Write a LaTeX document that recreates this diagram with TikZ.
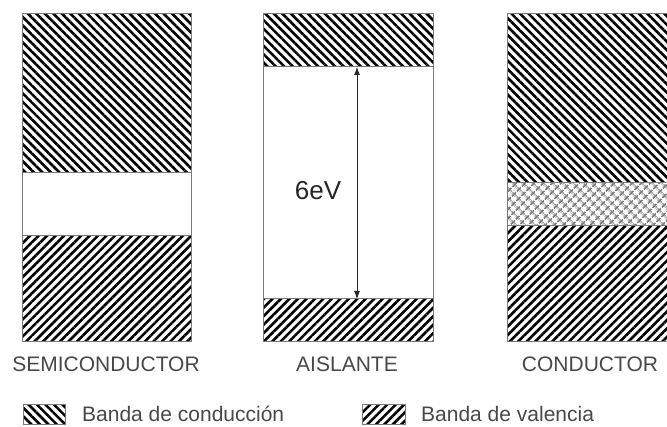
\documentclass[tikz,border=0pt]{standalone}
\usepackage{fontspec}
\setmainfont{Liberation Sans}
\usetikzlibrary{patterns.meta,arrows.meta}
\definecolor{edge}{HTML}{7A7A7A}
\definecolor{txt}{HTML}{484848}
\definecolor{hatchgray}{HTML}{7E7E7E}
\tikzset{
 cond/.style={pattern={Lines[angle=-45,distance=6pt,line width=2.6pt]},pattern color=black},
 val/.style={pattern={Lines[angle=45,distance=6pt,line width=2.6pt]},pattern color=black},
 cross/.style={pattern={Hatch[angle=45,distance=6.5pt,line width=1.8pt]},pattern color=hatchgray},
 frame/.style={draw=edge,line width=1pt},
 lbl/.style={font=\fontsize{21}{24}\selectfont,text=txt,inner sep=0pt},
 biglbl/.style={font=\fontsize{26}{30}\selectfont,text=black!85,inner sep=0pt},
 gap/.style={-{Latex[length=8pt,width=6pt]}, line width=0.8pt, draw=black!85},
}
\begin{document}
\begin{tikzpicture}[x=1pt,y=-1pt]
\useasboundingbox (0,0) rectangle (667,427);
\clip (0,0) rectangle (667,427);
% SEMICONDUCTOR
\fill[cond] (22,14) rectangle (191,173);
\fill[val] (22,236) rectangle (191,342);
\draw[frame] (22,14) rectangle (191,173);
\draw[frame] (22,236) rectangle (191,342);
\draw[frame] (22,14) rectangle (191,342);
% AISLANTE
\fill[cond] (263,14) rectangle (433,67);
\fill[val] (263,299) rectangle (433,342);
\draw[frame] (263,14) rectangle (433,67);
\draw[frame] (263,299) rectangle (433,342);
\draw[frame] (263,14) rectangle (433,342);
\coordinate (atop) at (357,67);
\coordinate (abot) at (357,299);
\coordinate (amid) at (357,183);
\draw[gap] (amid) -- (atop);
\draw[gap] (amid) -- (abot);
\node[biglbl, anchor=base] (ev) at (318,200) {6eV};
% CONDUCTOR
\fill[cond] (507,14) rectangle (680,183);
\fill[cross] (507,183) rectangle (680,226);
\fill[val] (507,226) rectangle (680,342);
\draw[frame] (507,14) rectangle (680,183);
\draw[frame] (507,226) rectangle (680,342);
\draw[frame] (507,14) rectangle (680,342);
% labels
\node[lbl, anchor=base] (ls) at (106,372) {SEMICONDUCTOR};
\node[lbl, anchor=base] (la) at (347,372) {AISLANTE};
\node[lbl, anchor=base] (lc) at (590,372) {CONDUCTOR};
% legend
\fill[cond] (23,405) rectangle (65,425);
\draw[frame] (23,405) rectangle (65,425);
\node[lbl, anchor=base west] (l1) at (82,422) {Banda de conducción};
\fill[val] (362,405) rectangle (405,425);
\draw[frame] (362,405) rectangle (405,425);
\node[lbl, anchor=base west] (l2) at (421,422) {Banda de valencia};
\end{tikzpicture}
\end{document}
